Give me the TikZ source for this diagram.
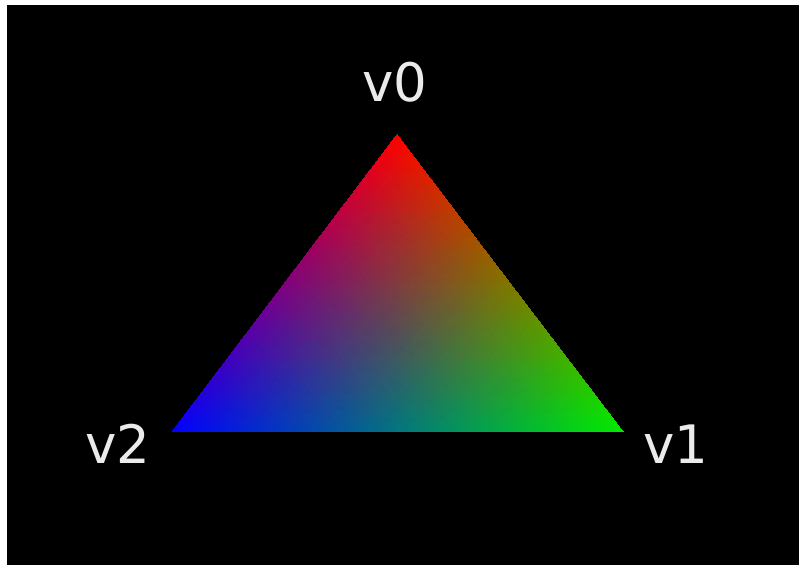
\documentclass[tikz,border=0pt]{standalone}
\usepackage{fontspec}
\setmainfont{DejaVu Sans}
\usepackage{pgfplots}
\pgfplotsset{compat=1.18}
\definecolor{vred}{RGB}{255,0,0}
\definecolor{vgreen}{RGB}{0,235,0}
\definecolor{vblue}{RGB}{0,0,255}
\definecolor{labelgray}{RGB}{235,235,235}
\tikzset{vlabel/.style={text=labelgray,font=\fontsize{53}{60}\selectfont,inner sep=0pt}}
\begin{document}
\begin{tikzpicture}[x=1pt,y=1pt]
\useasboundingbox (0,0) rectangle (799,565);
\fill[white] (0,0) rectangle (799,565);
\fill[black] (7,0) rectangle (799,560);
\begin{axis}[hide axis, x=1pt, y=1pt, xmin=0, xmax=799, ymin=0, ymax=565,
  scale only axis, anchor=south west, at={(0pt,0pt)}, clip=false]
\addplot[patch, shader=interp, mesh/color input=explicit] coordinates {
  (397,430) [color=vred]
  (623,133) [color=vgreen]
  (172,133) [color=vblue]
};
\end{axis}
\coordinate (v0) at (397,430);
\coordinate (v1) at (623,133);
\coordinate (v2) at (172,133);
\node[vlabel] (l0) at (395,483) {v0};
\node[vlabel] (l1) at (676,121) {v1};
\node[vlabel] (l2) at (118,121) {v2};
\end{tikzpicture}
\end{document}
